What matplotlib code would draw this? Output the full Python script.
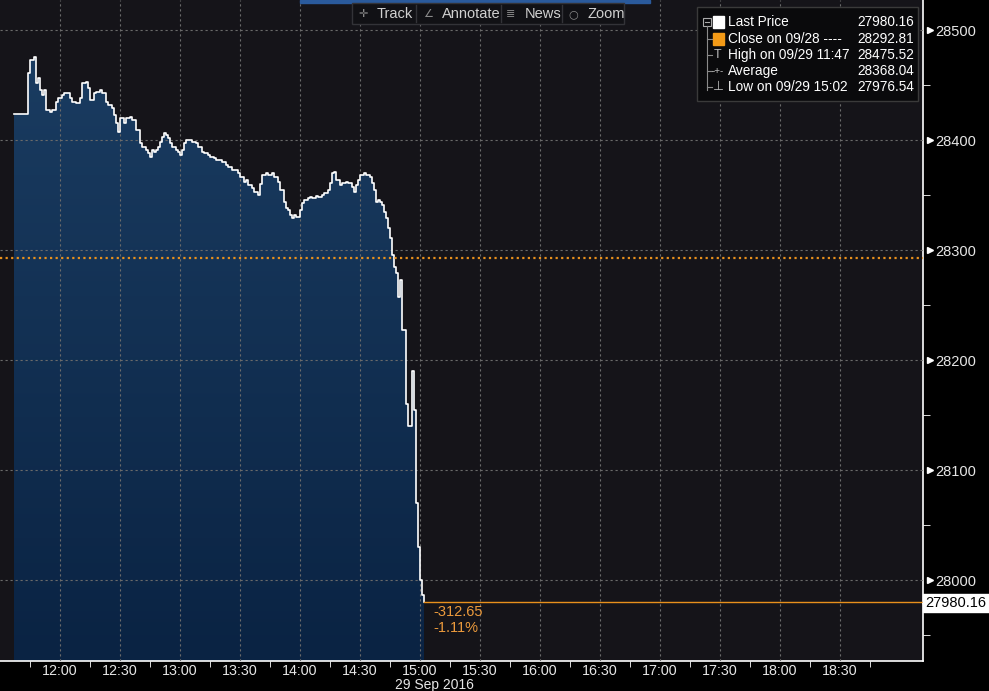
import numpy as np
import matplotlib
matplotlib.use("Agg")
import matplotlib.pyplot as plt
from matplotlib.colors import LinearSegmentedColormap
from matplotlib.patches import Rectangle
from matplotlib.lines import Line2D
import matplotlib.transforms as mtransforms

plt.rcParams["font.family"] = ["Liberation Sans", "DejaVu Sans"]

# intraday price, 29 Sep 2016
times = ["11:37", "11:43", "11:44", "11:45", "11:47", "11:48", "11:49", "11:50", "11:51", "11:52",
         "11:53", "11:55", "11:56", "11:58", "11:59", "12:01", "12:02", "12:04", "12:05", "12:06",
         "12:08", "12:10", "12:11", "12:13", "12:14", "12:15", "12:17", "12:18", "12:20", "12:21",
         "12:23", "12:24", "12:26", "12:27", "12:28", "12:29", "12:30", "12:32", "12:33", "12:35",
         "12:36", "12:38", "12:40", "12:41", "12:43", "12:44", "12:45", "12:46", "12:47", "12:48",
         "12:49", "12:50", "12:51", "12:52", "12:53", "12:54", "12:55", "12:56", "12:58", "12:59",
         "13:00", "13:01", "13:02", "13:03", "13:05", "13:06", "13:08", "13:09", "13:11", "13:12",
         "13:14", "13:15", "13:17", "13:18", "13:20", "13:21", "13:23", "13:24", "13:26", "13:27",
         "13:29", "13:30", "13:32", "13:33", "13:34", "13:36", "13:37", "13:39", "13:40", "13:41",
         "13:43", "13:44", "13:46", "13:47", "13:49", "13:50", "13:51", "13:52", "13:53", "13:54",
         "13:55", "13:56", "13:57", "13:58", "14:00", "14:01", "14:02", "14:04", "14:05", "14:06",
         "14:08", "14:09", "14:11", "14:12", "14:14", "14:15", "14:16", "14:17", "14:18", "14:20",
         "14:21", "14:23", "14:24", "14:26", "14:27", "14:28", "14:29", "14:30", "14:32", "14:33",
         "14:35", "14:36", "14:37", "14:38", "14:39", "14:40", "14:41", "14:42", "14:43", "14:44",
         "14:45", "14:46", "14:47", "14:48", "14:49", "14:50", "14:51", "14:53", "14:54", "14:56",
         "14:57", "14:58", "14:59", "15:00", "15:01", "15:02"]
prices = [28423.6, 28423.6, 28460.9, 28472.7, 28475.5, 28451.8, 28456.4, 28445.5, 28440.9, 28445.5,
          28427.3, 28425.5, 28427.3, 28434.5, 28438.2, 28440.9, 28442.7, 28442.7, 28438.2, 28434.5,
          28433.6, 28438.2, 28451.8, 28452.7, 28447.3, 28436.4, 28442.7, 28443.6, 28445.5, 28442.7,
          28434.5, 28431.8, 28429.1, 28422.7, 28415.5, 28407.3, 28420.0, 28415.5, 28420.0, 28420.9,
          28418.2, 28409.1, 28397.3, 28393.6, 28390.9, 28388.2, 28384.5, 28390.9, 28389.1, 28390.9,
          28393.6, 28398.2, 28402.7, 28406.4, 28404.5, 28401.8, 28397.3, 28393.6, 28390.9, 28389.1,
          28386.4, 28390.9, 28397.3, 28400.0, 28400.0, 28398.2, 28397.3, 28393.6, 28389.1, 28388.2,
          28386.4, 28384.5, 28383.6, 28381.8, 28381.8, 28380.0, 28377.3, 28375.5, 28372.7, 28372.7,
          28370.0, 28366.4, 28361.8, 28363.6, 28359.1, 28356.4, 28352.7, 28350.0, 28360.0, 28368.2,
          28370.0, 28368.2, 28370.0, 28366.4, 28361.8, 28354.5, 28354.5, 28343.6, 28338.2, 28336.4,
          28331.8, 28329.1, 28331.8, 28330.0, 28336.4, 28342.7, 28345.5, 28347.3, 28348.2, 28347.3,
          28349.1, 28348.2, 28350.0, 28351.8, 28354.5, 28360.9, 28370.0, 28370.9, 28363.6, 28359.1,
          28360.9, 28361.8, 28360.9, 28357.3, 28352.7, 28359.1, 28363.6, 28368.2, 28370.0, 28368.2,
          28366.4, 28360.9, 28354.5, 28343.6, 28345.5, 28343.6, 28340.9, 28334.5, 28329.1, 28320.0,
          28310.9, 28295.5, 28284.5, 28279.1, 28257.3, 28272.7, 28227.3, 28160.0, 28140.0, 28190.0,
          28155.0, 28070.0, 28030.0, 28000.0, 27986.0, 27980.16]

prev_close = 28292.81
last_price = 27980.16
legend_rows = [("Last Price", "27980.16"), ("Close on 09/28 ----", "28292.81"),
               ("High on 09/29 11:47", "28475.52"), ("Average", "28368.04"),
               ("Low on 09/29 15:02", "27976.54")]
x_labels = ["12:00", "12:30", "13:00", "13:30", "14:00", "14:30", "15:00", "15:30",
            "16:00", "16:30", "17:00", "17:30", "18:00", "18:30"]
y_ticks = [28000, 28100, 28200, 28300, 28400, 28500]


def to_min(s):
    h, m = s.split(":")
    return int(h) * 60 + int(m)


x = np.array([to_min(t) for t in times], dtype=float)
y = np.array(prices)

W, H = 989, 691
fig = plt.figure(figsize=(W / 100, H / 100), dpi=100, facecolor="black")


def fx(px):
    return px / W


def fy(py):
    return 1 - py / H


ax = fig.add_axes([0, fy(661), fx(923), 1 - fy(661)])
ax.set_facecolor("#151419")
x0 = to_min("11:30")
ax.set_xlim(x0, x0 + 461.5)
ax.set_ylim(27926.4, 28527.3)

# gradient mountain fill
poly = ax.fill_between(x, y, 27926.4, step="post", facecolor="none", edgecolor="none")
cmap = LinearSegmentedColormap.from_list("mnt", ["#0a2343", "#1a3c61"])
grad = np.linspace(0, 1, 256).reshape(-1, 1)
img = ax.imshow(grad, extent=[x0, x0 + 461.5, 27926.4, 28480], origin="lower",
                aspect="auto", cmap=cmap, zorder=1)
img.set_clip_path(poly.get_paths()[0], transform=ax.transData)
ax.step(x, y, where="post", color="white", lw=1.2, zorder=3)

# grid
ax.set_xticks([to_min(t) for t in x_labels])
ax.set_xticklabels(x_labels)
ax.set_xticks(np.arange(x0 + 15, x0 + 461, 30), minor=True)
ax.set_yticks(y_ticks)
ax.set_yticks([t + 50 for t in y_ticks[:-1]] + [27950], minor=True)
ax.grid(True, which="major", color="#6a6a6a", ls=(0, (2, 2.5)), lw=0.8)
ax.set_axisbelow(False)
for gl in ax.get_xgridlines() + ax.get_ygridlines():
    gl.set_zorder(2)

ax.yaxis.tick_right()
ax.tick_params(axis="x", which="major", length=0, pad=2, colors="#e6e6e6", labelsize=10.3)
ax.tick_params(axis="x", which="minor", length=4, color="white", direction="out")
ax.tick_params(axis="y", which="major", length=0, pad=9, colors="#e6e6e6", labelsize=10.5)
ax.tick_params(axis="y", which="minor", length=5, color="white", direction="out")
for s in ["left", "top"]:
    ax.spines[s].set_visible(False)
for s in ["bottom", "right"]:
    ax.spines[s].set_color("white")
    ax.spines[s].set_linewidth(1.2)

# small pointers at the y labels
trans = mtransforms.blended_transform_factory(ax.transAxes, ax.transData)
ax.plot([1.008] * len(y_ticks), y_ticks, ls="none", marker=">", ms=4, color="white",
        transform=trans, clip_on=False)

# previous close and last price lines
ax.axhline(prev_close, color="#e8901c", lw=1.6, ls=(0, (1, 1.5)), zorder=4)
ax.plot([x[-1], x0 + 461.5], [last_price, last_price], color="#e8901c", lw=1, zorder=4)

chg = last_price - prev_close
fig.text(fx(433), fy(612), f"{chg:.2f}", color="#eb9a3c", fontsize=10.5, va="center")
fig.text(fx(433), fy(628), f"{chg / prev_close * 100:.2f}%", color="#eb9a3c", fontsize=10.5,
         va="center")

# last price tag
fig.text(fx(956), fy(603), f"{last_price:.2f}", color="black", fontsize=10.5, ha="center",
         va="center", bbox=dict(boxstyle="square,pad=0.15", fc="white", ec="white"))
fig.add_artist(Line2D([fx(928)], [fy(603)], marker="<", ms=9, color="white", ls="none"))

fig.text(fx(434), fy(685.5), "29 Sep 2016", color="#e6e6e6", fontsize=10, ha="center",
         va="center")

# top scroll bar and toolbar
fig.add_artist(Rectangle((fx(300), fy(3)), fx(350), 3 / H, color="#2a5a9c"))
fig.add_artist(Rectangle((fx(352), fy(24)), fx(272), 21 / H, fc="#111115", ec="#333338", lw=1))
tools = [("✛", "Track", 358), ("∠", "Annotate", 423), ("≣", "News", 506), ("○", "Zoom", 568)]
for ic, name, px in tools:
    fig.text(fx(px), fy(14), ic, color="#8a8a8a", fontsize=8, va="center",
             family=["DejaVu Sans"])
    fig.text(fx(px + 19), fy(14), name, color="#d0d0d0", fontsize=10.5, va="center")
for px in [416, 501, 562]:
    fig.add_artist(Line2D([fx(px), fx(px)], [fy(5), fy(22)], color="#333338", lw=1))

# legend box
fig.add_artist(Rectangle((fx(697), fy(101)), fx(221), 94 / H, fc="#0a0a0c", ec="#3a3a3a", lw=1))
row_y = [22, 39, 55, 71, 87]
for (lab, val), ry in zip(legend_rows, row_y):
    fig.text(fx(728), fy(ry), lab, color="white", fontsize=9.8, va="center")
    fig.text(fx(914), fy(ry), val, color="white", fontsize=9.8, va="center", ha="right")
fig.add_artist(Line2D([fx(707), fx(707)], [fy(26), fy(90)], color="#8a8a8a", lw=0.8))
for ry in row_y[1:]:
    fig.add_artist(Line2D([fx(707), fx(712)], [fy(ry), fy(ry)], color="#8a8a8a", lw=0.8))
fig.add_artist(Rectangle((fx(703), fy(26)), 8 / W, 8 / H, fc="#0a0a0c", ec="#aaaaaa", lw=0.8))
fig.add_artist(Line2D([fx(705), fx(709)], [fy(22), fy(22)], color="#aaaaaa", lw=0.8))
fig.add_artist(Rectangle((fx(713), fy(28)), 11 / W, 12 / H, color="white"))
fig.add_artist(Rectangle((fx(713), fy(45)), 11 / W, 12 / H, color="#f39a17"))
fig.text(fx(718), fy(55), "T", color="#bbbbbb", fontsize=9, ha="center", va="center")
fig.text(fx(718), fy(71), "-+-", color="#bbbbbb", fontsize=7, ha="center", va="center")
fig.text(fx(718), fy(87), "⊥", color="#bbbbbb", fontsize=9, ha="center", va="center")

fig.savefig("out.png", dpi=100, facecolor="black")
